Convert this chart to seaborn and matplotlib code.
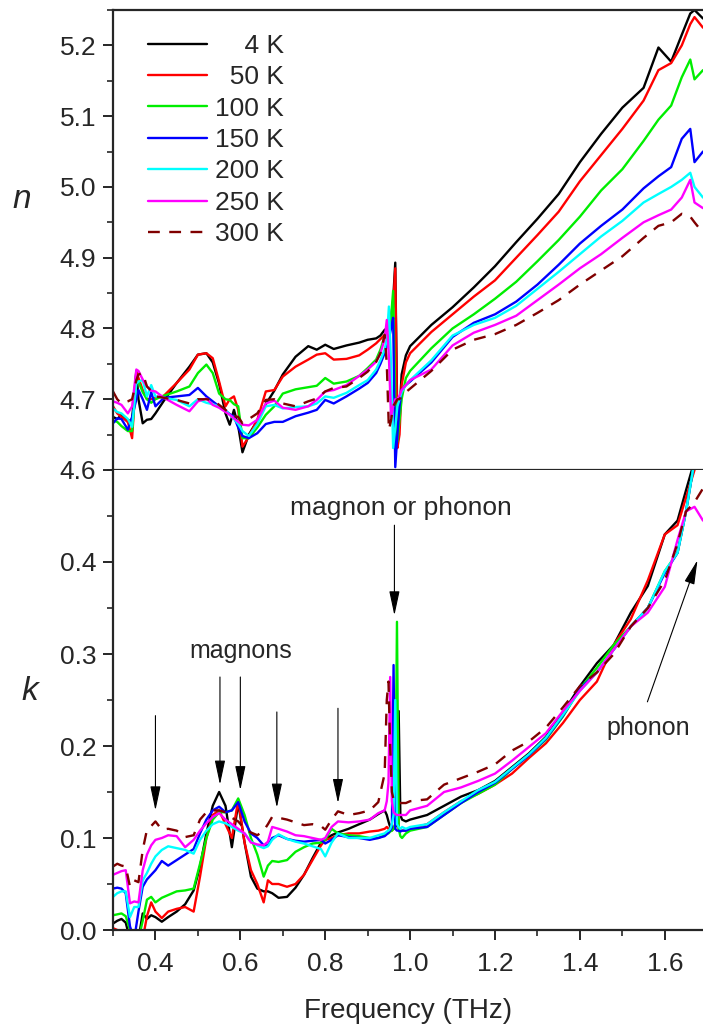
import numpy as np
import pandas as pd
import matplotlib.pyplot as plt
import seaborn as sns
from matplotlib.lines import Line2D
from matplotlib.ticker import MultipleLocator, FixedLocator

# temperatures and colours
temps = ['4 K', '50 K', '100 K', '150 K', '200 K', '250 K', '300 K']
colors = ['#000000', '#ff0000', '#00ee00', '#0000ff', '#00ffff', '#ff00ff', '#800000']

# refractive index n (upper panel)
x_n = [0.30, 0.31, 0.32, 0.335, 0.345, 0.355, 0.36, 0.37, 0.38, 0.39,
       0.40, 0.42, 0.45, 0.48, 0.50, 0.52, 0.535, 0.55, 0.565, 0.575,
       0.585, 0.595, 0.605, 0.62, 0.64, 0.66, 0.68, 0.70, 0.73, 0.76,
       0.78, 0.80, 0.82, 0.85, 0.88, 0.90, 0.92, 0.93, 0.94, 0.945,
       0.95, 0.955, 0.96, 0.965, 0.97, 0.975, 0.98, 0.99, 1.00, 1.05,
       1.10, 1.15, 1.20, 1.25, 1.30, 1.35, 1.40, 1.45, 1.50, 1.55,
       1.585, 1.615, 1.64, 1.66, 1.67, 1.69]

n_4K = [4.675, 4.672, 4.678, 4.668, 4.672, 4.740, 4.700, 4.666, 4.671, 4.672,
        4.680, 4.698, 4.723, 4.746, 4.763, 4.765, 4.752, 4.722, 4.680, 4.664,
        4.685, 4.662, 4.625, 4.650, 4.670, 4.693, 4.712, 4.735, 4.760, 4.775,
        4.770, 4.777, 4.771, 4.776, 4.780, 4.784, 4.786, 4.790, 4.798, 4.800,
        4.805, 4.815, 4.840, 4.893, 4.660, 4.680, 4.735, 4.762, 4.775, 4.805,
        4.830, 4.858, 4.888, 4.922, 4.955, 4.990, 5.035, 5.075, 5.112, 5.140,
        5.197, 5.177, 5.215, 5.245, 5.250, 5.238]
n_50K = [4.690, 4.680, 4.675, 4.668, 4.645, 4.738, 4.730, 4.713, 4.700, 4.700,
         4.702, 4.705, 4.723, 4.742, 4.763, 4.765, 4.758, 4.725, 4.690, 4.700,
         4.704, 4.685, 4.633, 4.647, 4.671, 4.711, 4.713, 4.732, 4.746, 4.756,
         4.763, 4.765, 4.756, 4.757, 4.762, 4.770, 4.779, 4.785, 4.791, 4.795,
         4.800, 4.810, 4.830, 4.885, 4.631, 4.650, 4.720, 4.752, 4.765, 4.795,
         4.820, 4.845, 4.868, 4.900, 4.932, 4.965, 5.008, 5.045, 5.082, 5.122,
         5.165, 5.175, 5.200, 5.230, 5.240, 5.225]
n_100K = [4.670, 4.668, 4.662, 4.655, 4.655, 4.727, 4.725, 4.710, 4.700, 4.695,
          4.700, 4.705, 4.711, 4.718, 4.737, 4.749, 4.737, 4.708, 4.700, 4.699,
          4.693, 4.690, 4.645, 4.645, 4.660, 4.678, 4.690, 4.708, 4.714, 4.717,
          4.719, 4.730, 4.722, 4.725, 4.733, 4.744, 4.756, 4.770, 4.789, 4.795,
          4.800, 4.815, 4.853, 4.700, 4.640, 4.670, 4.700, 4.730, 4.740, 4.772,
          4.800, 4.820, 4.842, 4.866, 4.895, 4.925, 4.958, 4.995, 5.025, 5.065,
          5.095, 5.115, 5.155, 5.180, 5.152, 5.165]
n_150K = [4.666, 4.673, 4.672, 4.657, 4.675, 4.700, 4.713, 4.700, 4.685, 4.710,
          4.690, 4.702, 4.704, 4.706, 4.716, 4.704, 4.697, 4.690, 4.684, 4.679,
          4.675, 4.660, 4.648, 4.645, 4.652, 4.665, 4.668, 4.668, 4.676, 4.681,
          4.685, 4.699, 4.694, 4.704, 4.715, 4.723, 4.737, 4.750, 4.765, 4.775,
          4.785, 4.800, 4.815, 4.604, 4.650, 4.690, 4.713, 4.720, 4.725, 4.752,
          4.788, 4.808, 4.820, 4.838, 4.862, 4.890, 4.920, 4.945, 4.968, 4.998,
          5.015, 5.028, 5.068, 5.082, 5.035, 5.050]
n_200K = [4.687, 4.682, 4.680, 4.672, 4.661, 4.722, 4.725, 4.727, 4.704, 4.720,
          4.704, 4.702, 4.699, 4.690, 4.700, 4.695, 4.693, 4.690, 4.684, 4.678,
          4.672, 4.665, 4.655, 4.648, 4.665, 4.690, 4.692, 4.687, 4.689, 4.690,
          4.694, 4.704, 4.702, 4.709, 4.720, 4.727, 4.742, 4.755, 4.770, 4.785,
          4.831, 4.750, 4.631, 4.660, 4.690, 4.700, 4.710, 4.720, 4.727, 4.755,
          4.790, 4.805, 4.815, 4.832, 4.856, 4.880, 4.905, 4.930, 4.952, 4.978,
          4.990, 5.000, 5.010, 5.020, 5.000, 4.985]
n_250K = [4.697, 4.695, 4.692, 4.680, 4.690, 4.742, 4.740, 4.728, 4.718, 4.712,
          4.711, 4.702, 4.692, 4.683, 4.697, 4.701, 4.692, 4.688, 4.682, 4.678,
          4.673, 4.668, 4.664, 4.663, 4.671, 4.694, 4.698, 4.688, 4.685, 4.690,
          4.699, 4.711, 4.713, 4.720, 4.733, 4.742, 4.753, 4.765, 4.785, 4.812,
          4.760, 4.675, 4.690, 4.700, 4.700, 4.705, 4.713, 4.720, 4.727, 4.742,
          4.776, 4.794, 4.805, 4.818, 4.840, 4.862, 4.885, 4.905, 4.928, 4.950,
          4.960, 4.968, 4.985, 5.010, 4.978, 4.970]
n_300K = [4.711, 4.700, 4.694, 4.697, 4.700, 4.727, 4.735, 4.737, 4.718, 4.712,
          4.704, 4.702, 4.699, 4.694, 4.700, 4.700, 4.699, 4.692, 4.685, 4.680,
          4.676, 4.675, 4.666, 4.672, 4.680, 4.699, 4.700, 4.694, 4.690, 4.697,
          4.701, 4.711, 4.716, 4.718, 4.730, 4.739, 4.753, 4.765, 4.791, 4.750,
          4.657, 4.670, 4.690, 4.695, 4.700, 4.700, 4.705, 4.710, 4.715, 4.740,
          4.770, 4.784, 4.792, 4.805, 4.822, 4.840, 4.862, 4.882, 4.902, 4.928,
          4.945, 4.950, 4.962, 4.958, 4.950, 4.935]

# extinction coefficient k (lower panel)
x_k = [0.30, 0.31, 0.32, 0.33, 0.34, 0.35, 0.36, 0.37, 0.38, 0.39,
       0.40, 0.415, 0.43, 0.45, 0.47, 0.49, 0.505, 0.52, 0.535, 0.55,
       0.565, 0.58, 0.595, 0.61, 0.625, 0.64, 0.655, 0.665, 0.675, 0.69,
       0.71, 0.73, 0.75, 0.77, 0.79, 0.80, 0.815, 0.83, 0.855, 0.88,
       0.905, 0.925, 0.94, 0.945, 0.949, 0.953, 0.957, 0.961, 0.965, 0.969,
       0.973, 0.977, 0.981, 0.99, 1.00, 1.04, 1.08, 1.12, 1.16, 1.20,
       1.24, 1.28, 1.32, 1.36, 1.40, 1.44, 1.48, 1.52, 1.56, 1.60,
       1.63, 1.65, 1.67, 1.69]

k_4K = [0.007, 0.010, 0.012, 0.008, -0.010, -0.030, -0.010, 0.018, 0.012, 0.016,
        0.014, 0.009, 0.014, 0.020, 0.028, 0.043, 0.069, 0.105, 0.135, 0.150,
        0.135, 0.090, 0.138, 0.095, 0.058, 0.045, 0.042, 0.042, 0.040, 0.035,
        0.036, 0.046, 0.060, 0.078, 0.095, 0.098, 0.103, 0.106, 0.110, 0.115,
        0.120, 0.126, 0.130, 0.125, 0.118, 0.112, 0.110, 0.110, 0.112, 0.115,
        0.238, 0.125, 0.120, 0.118, 0.120, 0.125, 0.135, 0.145, 0.152, 0.162,
        0.177, 0.192, 0.210, 0.236, 0.265, 0.290, 0.310, 0.345, 0.374, 0.430,
        0.445, 0.478, 0.510, 0.530]
k_50K = [0.002, 0.000, -0.005, -0.010, -0.030, -0.050, -0.040, -0.010, 0.015, 0.030,
         0.020, 0.013, 0.020, 0.023, 0.025, 0.020, 0.058, 0.100, 0.125, 0.130,
         0.115, 0.100, 0.141, 0.095, 0.065, 0.050, 0.030, 0.054, 0.050, 0.050,
         0.047, 0.050, 0.060, 0.076, 0.092, 0.098, 0.100, 0.103, 0.105, 0.105,
         0.107, 0.108, 0.110, 0.112, 0.110, 0.108, 0.108, 0.110, 0.115, 0.215,
         0.110, 0.108, 0.108, 0.108, 0.110, 0.115, 0.128, 0.140, 0.148, 0.158,
         0.170, 0.187, 0.203, 0.225, 0.250, 0.270, 0.310, 0.338, 0.380, 0.430,
         0.440, 0.470, 0.500, 0.530]
k_100K = [0.016, 0.017, 0.018, 0.015, 0.000, -0.020, -0.010, 0.010, 0.033, 0.036,
          0.030, 0.035, 0.038, 0.042, 0.043, 0.045, 0.072, 0.100, 0.120, 0.128,
          0.128, 0.130, 0.143, 0.125, 0.100, 0.082, 0.058, 0.070, 0.075, 0.074,
          0.076, 0.085, 0.090, 0.094, 0.095, 0.098, 0.110, 0.105, 0.103, 0.102,
          0.100, 0.100, 0.103, 0.105, 0.105, 0.107, 0.108, 0.110, 0.115, 0.335,
          0.110, 0.102, 0.100, 0.105, 0.108, 0.112, 0.125, 0.138, 0.148, 0.158,
          0.175, 0.190, 0.207, 0.232, 0.262, 0.285, 0.310, 0.330, 0.350, 0.390,
          0.410, 0.455, 0.510, 0.530]
k_150K = [0.045, 0.046, 0.045, 0.040, 0.004, -0.010, 0.020, 0.047, 0.055, 0.060,
          0.065, 0.075, 0.070, 0.076, 0.082, 0.088, 0.105, 0.120, 0.130, 0.134,
          0.128, 0.130, 0.139, 0.118, 0.105, 0.100, 0.092, 0.092, 0.100, 0.103,
          0.099, 0.097, 0.096, 0.097, 0.098, 0.094, 0.098, 0.103, 0.101, 0.100,
          0.098, 0.100, 0.102, 0.104, 0.106, 0.108, 0.112, 0.288, 0.110, 0.108,
          0.108, 0.107, 0.108, 0.108, 0.110, 0.112, 0.125, 0.138, 0.150, 0.160,
          0.175, 0.190, 0.208, 0.233, 0.262, 0.280, 0.305, 0.330, 0.350, 0.388,
          0.410, 0.455, 0.510, 0.530]
k_200K = [0.036, 0.040, 0.042, 0.042, 0.014, 0.025, 0.025, 0.054, 0.062, 0.072,
          0.080, 0.087, 0.091, 0.089, 0.087, 0.083, 0.098, 0.108, 0.115, 0.118,
          0.116, 0.112, 0.108, 0.105, 0.096, 0.092, 0.089, 0.091, 0.098, 0.104,
          0.099, 0.096, 0.094, 0.091, 0.088, 0.080, 0.095, 0.105, 0.100, 0.100,
          0.100, 0.103, 0.105, 0.107, 0.108, 0.110, 0.115, 0.125, 0.250, 0.115,
          0.112, 0.110, 0.112, 0.110, 0.112, 0.115, 0.128, 0.140, 0.152, 0.161,
          0.176, 0.191, 0.209, 0.234, 0.260, 0.280, 0.305, 0.330, 0.350, 0.390,
          0.410, 0.455, 0.510, 0.530]
k_250K = [0.060, 0.062, 0.064, 0.065, 0.029, 0.031, 0.030, 0.065, 0.082, 0.092,
          0.098, 0.100, 0.103, 0.102, 0.090, 0.098, 0.108, 0.116, 0.123, 0.127,
          0.120, 0.115, 0.110, 0.105, 0.095, 0.093, 0.092, 0.096, 0.112, 0.110,
          0.107, 0.103, 0.102, 0.100, 0.098, 0.100, 0.112, 0.118, 0.117, 0.118,
          0.120, 0.127, 0.130, 0.140, 0.160, 0.275, 0.140, 0.128, 0.126, 0.125,
          0.125, 0.125, 0.125, 0.125, 0.130, 0.135, 0.150, 0.155, 0.162, 0.170,
          0.184, 0.199, 0.214, 0.238, 0.260, 0.280, 0.305, 0.330, 0.345, 0.373,
          0.424, 0.455, 0.460, 0.445]
k_300K = [0.069, 0.072, 0.070, 0.069, 0.047, 0.054, 0.052, 0.087, 0.109, 0.113,
          0.118, 0.109, 0.110, 0.108, 0.101, 0.103, 0.120, 0.128, 0.130, 0.130,
          0.128, 0.122, 0.118, 0.110, 0.106, 0.103, 0.108, 0.115, 0.123, 0.122,
          0.120, 0.117, 0.114, 0.115, 0.113, 0.109, 0.120, 0.129, 0.125, 0.127,
          0.130, 0.139, 0.170, 0.250, 0.270, 0.200, 0.150, 0.142, 0.140, 0.140,
          0.138, 0.138, 0.138, 0.138, 0.140, 0.142, 0.158, 0.165, 0.172, 0.180,
          0.195, 0.205, 0.220, 0.242, 0.265, 0.280, 0.300, 0.330, 0.350, 0.380,
          0.420, 0.455, 0.465, 0.480]

n_data = [n_4K, n_50K, n_100K, n_150K, n_200K, n_250K, n_300K]
k_data = [k_4K, k_50K, k_100K, k_150K, k_200K, k_250K, k_300K]

sns.set_theme(style='ticks')
plt.rcParams['font.family'] = ['Liberation Sans', 'DejaVu Sans']
plt.rcParams['axes.linewidth'] = 1.6

fig = plt.figure(figsize=(7.03, 10.28), dpi=100)
ax_n = fig.add_axes([113/703, 558/1028, 590/703, 460/1028])
ax_k = fig.add_axes([113/703, 98/1028, 590/703, 460/1028])

for i, t in enumerate(temps):
    kw = dict(color=colors[i], lw=1.7, sort=False, estimator=None)
    if t == '300 K':
        kw['dashes'] = (5, 4)
    sns.lineplot(x=x_n, y=n_data[i], ax=ax_n, **kw)
    sns.lineplot(x=x_k, y=k_data[i], ax=ax_k, **kw)

for ax in (ax_n, ax_k):
    ax.set_xlim(0.3, 1.69)
    ax.xaxis.set_major_locator(MultipleLocator(0.2))
    ax.xaxis.set_minor_locator(MultipleLocator(0.1))
    ax.yaxis.set_minor_locator(MultipleLocator(0.05))
    ax.spines['right'].set_visible(False)
    ax.tick_params(which='major', direction='out', length=7, width=1.4,
                   labelsize=19, pad=5)
    ax.tick_params(which='minor', direction='out', length=4, width=1.2)
    ax.set_xlabel('')
    ax.set_ylabel('')

ax_n.set_ylim(4.6, 5.25)
ax_n.yaxis.set_major_locator(MultipleLocator(0.1))
ax_n.tick_params(axis='x', labelbottom=False)
ax_k.set_ylim(0.0, 0.5)
ax_k.yaxis.set_major_locator(FixedLocator([0.0, 0.1, 0.2, 0.3, 0.4]))
ax_k.spines['top'].set_visible(False)
ax_k.tick_params(axis='x', which='major', pad=9)
ax_k.set_xlabel('Frequency (THz)', fontsize=20, labelpad=16)

fig.text(22/703, 1 - 200/1028, 'n', fontsize=24, style='italic', ha='center', va='center')
fig.text(30/703, 1 - 692/1028, 'k', fontsize=24, style='italic', ha='center', va='center')

# legend with right-aligned labels
pads = ['    ', '  ', '', '', '', '', '']
handles = []
for i, t in enumerate(temps):
    ls = (0, (5, 4)) if t == '300 K' else '-'
    handles.append(Line2D([], [], color=colors[i], lw=1.7, ls=ls))
ax_n.legend(handles, [p + t for p, t in zip(pads, temps)], loc='upper left',
            bbox_to_anchor=(0.059, 0.948), frameon=False, fontsize=19,
            handlelength=2.25, handletextpad=0.3, labelspacing=0.28,
            borderpad=0, borderaxespad=0)

# annotations
arrow = dict(arrowstyle='-|>,head_length=0.75,head_width=0.16', color='black',
             lw=0.8, mutation_scale=20, shrinkA=0, shrinkB=0)
ax_k.text(0.978, 0.446, 'magnon or phonon', ha='center', va='bottom', fontsize=19)
ax_k.annotate('', xy=(0.963, 0.342), xytext=(0.963, 0.440), arrowprops=arrow)
ax_k.text(0.602, 0.303, 'magnons', ha='center', va='center', fontsize=18)
for xa, y0, y1 in [(0.40, 0.233, 0.130), (0.552, 0.275, 0.158), (0.60, 0.275, 0.152),
                   (0.686, 0.237, 0.133), (0.83, 0.241, 0.138)]:
    ax_k.annotate('', xy=(xa, y1), xytext=(xa, y0), arrowprops=arrow)
ax_k.text(1.561, 0.22, 'phonon', ha='center', va='center', fontsize=18)
ax_k.annotate('', xy=(1.677, 0.402), xytext=(1.559, 0.248), arrowprops=arrow)

fig.savefig('out.png', dpi=100)
